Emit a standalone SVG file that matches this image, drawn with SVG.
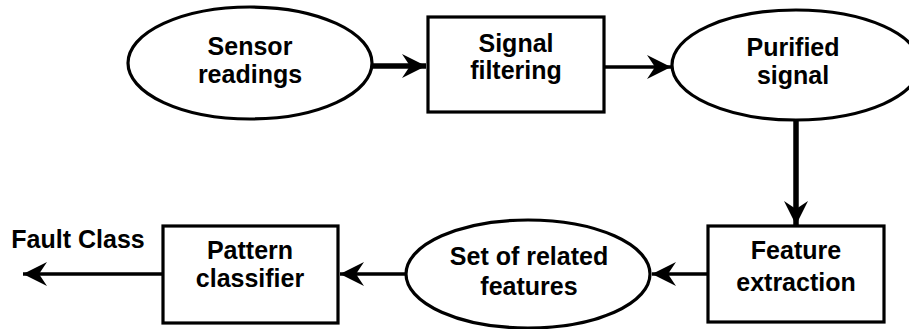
<svg xmlns="http://www.w3.org/2000/svg" width="909" height="329" viewBox="0 0 909 329">
<style>
.shape{fill:#fff;stroke:#000;stroke-width:3.2}
.lbl{font-family:"Liberation Sans",Arial,sans-serif;font-weight:bold;font-size:25px;fill:#000;text-anchor:middle}
.conn{stroke:#000;stroke-width:3.5;fill:none}
.thick{stroke-width:5.5}
</style>
<defs>
<marker id="ah" markerUnits="userSpaceOnUse" markerWidth="28" markerHeight="28" viewBox="-26 -14 28 28" refX="0" refY="0" orient="auto">
<path d="M0,0 L-24,-12 L-16,0 L-24,12 Z" fill="#000"/>
</marker>
</defs>
<rect width="909" height="329" fill="#fff"/>
<g id="connectors">
<line class="conn thick" x1="372" y1="66" x2="426" y2="66" marker-end="url(#ah)"/>
<line class="conn" x1="604" y1="67" x2="671" y2="67" marker-end="url(#ah)"/>
<line class="conn thick" x1="796" y1="120" x2="796" y2="225" marker-end="url(#ah)"/>
<line class="conn" x1="708" y1="274" x2="652" y2="274" marker-end="url(#ah)"/>
<line class="conn" x1="407" y1="274" x2="340" y2="274" marker-end="url(#ah)"/>
<line class="conn" x1="163" y1="274" x2="23" y2="274" marker-end="url(#ah)"/>
</g>
<g id="sensor">
<ellipse class="shape" cx="250" cy="63" rx="122" ry="56"/>
<text class="lbl" x="250" y="55">Sensor</text>
<text class="lbl" x="250" y="83">readings</text>
</g>
<g id="filter">
<rect class="shape" x="428" y="17" width="176" height="95"/>
<text class="lbl" x="516" y="52">Signal</text>
<text class="lbl" x="516" y="79">filtering</text>
</g>
<g id="purified">
<ellipse class="shape" cx="796" cy="65" rx="124" ry="55"/>
<text class="lbl" x="793" y="56">Purified</text>
<text class="lbl" x="793" y="84">signal</text>
</g>
<g id="extraction">
<rect class="shape" x="708" y="226" width="176" height="96"/>
<text class="lbl" x="796" y="259">Feature</text>
<text class="lbl" x="796" y="291">extraction</text>
</g>
<g id="features">
<ellipse class="shape" cx="528" cy="274" rx="122" ry="54"/>
<text class="lbl" x="529" y="265">Set of related</text>
<text class="lbl" x="529" y="295">features</text>
</g>
<g id="classifier">
<rect class="shape" x="163" y="226" width="175" height="97"/>
<text class="lbl" x="250" y="259">Pattern</text>
<text class="lbl" x="250" y="287">classifier</text>
</g>
<g id="output">
<text class="lbl" x="78" y="248">Fault Class</text>
</g>
</svg>
